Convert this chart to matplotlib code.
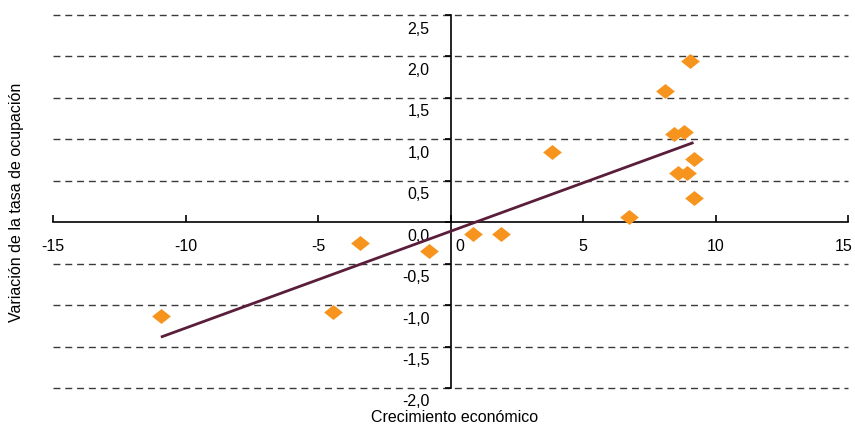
"""Scatter: economic growth vs change in employment rate, with linear trend."""

import numpy as np
import matplotlib.pyplot as plt
from matplotlib.transforms import ScaledTranslation
from matplotlib.ticker import FuncFormatter

plt.rcParams["font.family"] = ["Liberation Sans", "DejaVu Sans"]
plt.rcParams["axes.unicode_minus"] = False

# data
crecimiento = [9.02, 8.10, 8.45, 8.83, 9.17, 8.60, 8.92, 9.17, 6.74, 3.82,
               0.84, 1.90, -0.80, -3.43, -4.42, -10.93]
variacion = [1.94, 1.58, 1.06, 1.09, 0.76, 0.59, 0.59, 0.29, 0.06, 0.85,
             -0.14, -0.14, -0.35, -0.25, -1.08, -1.13]
x_ticks = [-15, -10, -5, 0, 5, 10, 15]
y_ticks = [-2.0, -1.5, -1.0, -0.5, 0.0, 0.5, 1.0, 1.5, 2.0, 2.5]

ORANGE = "#F7941D"
MAROON = "#5A1E3A"
GRID = "#3a3a3a"
FS = 11.5

fig = plt.figure(figsize=(8.55, 4.28), dpi=100)
ax = fig.add_axes([53 / 855, 1 - 388 / 428, 795 / 855, 373 / 428])

ax.set_xlim(-15, 15)
ax.set_ylim(-2.0, 2.5)

# dashed horizontal grid, skipping zero (the x axis itself)
for y in y_ticks:
    if y != 0:
        ax.axhline(y, color=GRID, lw=1.0, ls=(0, (5, 3.5)), zorder=1,
                   clip_on=False)

# trend line from a least-squares fit over the data range
xs = np.array(crecimiento)
ys = np.array(variacion)
slope, intercept = np.polyfit(xs, ys, 1)
xl = np.array([xs.min(), xs.max()])
ax.plot(xl, slope * xl + intercept, color=MAROON, lw=2.0, zorder=3,
        solid_capstyle="butt")

diamond = [(-1, 0), (0, 0.8), (1, 0), (0, -0.8), (-1, 0)]
ax.plot(xs, ys, ls="none", marker=diamond, markersize=13.5,
        color=ORANGE, markeredgewidth=0, zorder=4)

# axes crossing at the origin
for side in ["top", "right"]:
    ax.spines[side].set_visible(False)
ax.spines["left"].set_position(("data", 0))
ax.spines["bottom"].set_position(("data", 0))
for side in ["left", "bottom"]:
    ax.spines[side].set_linewidth(1.2)
    ax.spines[side].set_zorder(2)

ax.set_xticks(x_ticks)
ax.set_yticks(y_ticks)
ax.yaxis.set_major_formatter(FuncFormatter(lambda v, p: f"{v:.1f}".replace(".", ",")))
ax.tick_params(axis="x", direction="in", length=5, width=1.2, pad=12, labelsize=FS)
ax.tick_params(axis="y", direction="out", length=4, width=1.2, pad=11, labelsize=FS)

# Excel-style placement: y labels sit below their gridline, 0 nudged right
down = ScaledTranslation(0, -9 / 72, fig.dpi_scale_trans)
for lab in ax.get_yticklabels():
    lab.set_transform(lab.get_transform() + down)
for lab, v in zip(ax.get_xticklabels(), x_ticks):
    if v == 0:
        shift = ScaledTranslation(7 / 72, 0, fig.dpi_scale_trans)
    elif v == 15:
        shift = ScaledTranslation(-3 / 72, 0, fig.dpi_scale_trans)
    else:
        continue
    lab.set_transform(lab.get_transform() + shift)

fig.text(455 / 855, 1 - 418 / 428, "Crecimiento económico", ha="center",
         va="center", fontsize=FS)
fig.text(17 / 855, 1 - 202 / 428, "Variación de la tasa de ocupación",
         rotation=90, ha="center", va="center", fontsize=FS)

fig.savefig("out.png", dpi=100)
